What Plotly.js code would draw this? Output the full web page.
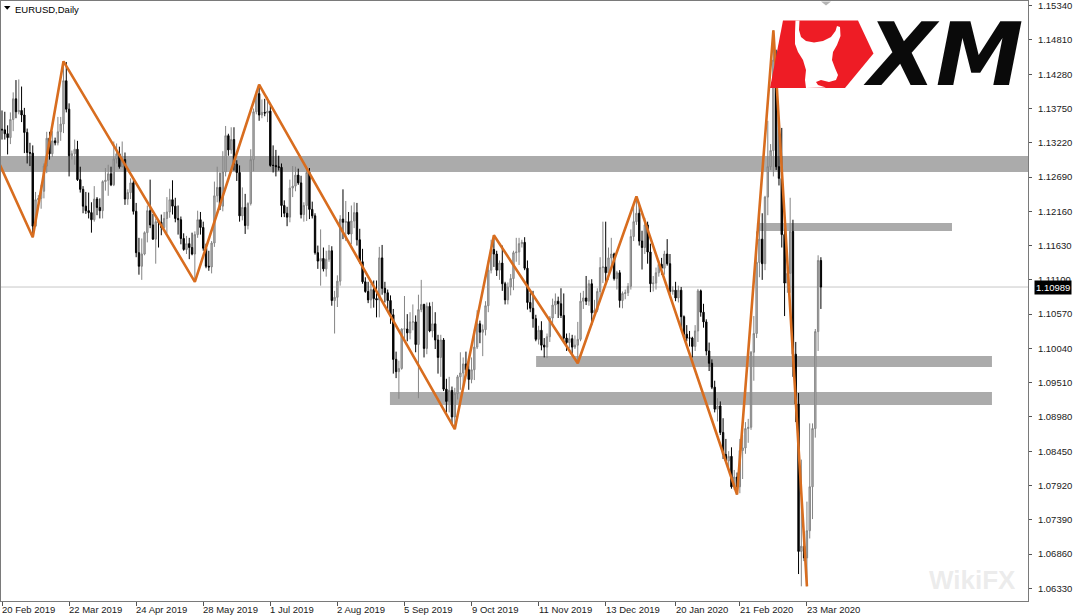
<!DOCTYPE html>
<html>
<head>
<meta charset="utf-8">
<script src="https://cdn.plot.ly/plotly-3.0.1.min.js"></script>
<style>html,body{margin:0;padding:0;background:#fff;}#chart{width:1080px;height:616px;}</style>
</head>
<body>
<div id="chart"></div>
<script>
// EURUSD Daily, bar index 0 = 20 Feb 2019 ... 293 = last bar (Mar 2020)
const opens = [
1.1343,1.1342,1.1336,1.1330,1.1358,1.1390,1.1370,1.1372,1.1365,1.1338,
1.1307,1.1306,1.1193,1.1234,1.1236,1.1247,1.1286,1.1329,1.1305,1.1325,
1.1322,1.1339,1.1351,1.1418,1.1374,1.1302,1.1305,1.1312,1.1265,1.1250,
1.1224,1.1217,1.1214,1.1203,1.1235,1.1222,1.1217,1.1262,1.1264,1.1274,
1.1257,1.1297,1.1305,1.1285,1.1296,1.1235,1.1245,1.1260,1.1216,1.1152,
1.1131,1.1150,1.1183,1.1217,1.1195,1.1173,1.1200,1.1199,1.1191,1.1205,
1.1215,1.1234,1.1224,1.1205,1.1203,1.1174,1.1157,1.1166,1.1160,1.1150,
1.1180,1.1203,1.1191,1.1159,1.1131,1.1130,1.1167,1.1240,1.1253,1.1224,
1.1277,1.1333,1.1311,1.1327,1.1289,1.1276,1.1209,1.1222,1.1194,1.1228,
1.1296,1.1370,1.1398,1.1365,1.1369,1.1368,1.1371,1.1287,1.1287,1.1285,
1.1284,1.1225,1.1213,1.1207,1.1252,1.1255,1.1272,1.1260,1.1211,1.1225,
1.1276,1.1219,1.1209,1.1152,1.1139,1.1143,1.1127,1.1142,1.1155,1.1078,
1.1083,1.1108,1.1204,1.1199,1.1200,1.1181,1.1201,1.1214,1.1172,1.1138,
1.1107,1.1092,1.1079,1.1095,1.1081,1.1079,1.1144,1.1097,1.1090,1.1078,
1.1056,1.0987,1.0968,1.0973,1.1034,1.1034,1.1028,1.1045,1.1045,1.1010,
1.1064,1.1072,1.1004,1.1069,1.1031,1.1042,1.1017,1.0990,1.1017,1.0941,
1.0922,1.0939,1.0898,1.0934,1.0960,1.0966,1.0980,1.0971,1.0956,1.0971,
1.1006,1.1042,1.1029,1.1033,1.1070,1.1125,1.1157,1.1150,1.1125,1.1136,
1.1104,1.1079,1.1099,1.1112,1.1152,1.1153,1.1166,1.1168,1.1128,1.1075,
1.1066,1.1050,1.1018,1.1032,1.1009,1.1006,1.1022,1.1051,1.1071,1.1077,
1.1073,1.1055,1.1020,1.1013,1.1019,1.1006,1.1009,1.1018,1.1077,1.1082,
1.1077,1.1104,1.1059,1.1063,1.1092,1.1129,1.1130,1.1121,1.1144,1.1150,
1.1112,1.1121,1.1078,1.1089,1.1090,1.1100,1.1177,1.1200,1.1213,1.1170,
1.1160,1.1195,1.1153,1.1104,1.1105,1.1121,1.1134,1.1128,1.1150,1.1135,
1.1092,1.1094,1.1082,1.1094,1.1053,1.1026,1.1020,1.1020,1.1007,1.1031,
1.1093,1.1060,1.1045,1.1000,1.0981,1.0944,1.0910,1.0915,1.0874,1.0840,
1.0830,1.0837,1.0790,1.0805,1.0790,1.0846,1.0850,1.0880,1.0882,1.0998,
1.1027,1.1137,1.1173,1.1135,1.1238,1.1285,1.1310,1.1450,1.1285,1.1267,
1.1180,1.1105,1.1120,1.1185,1.0995,1.0918,1.0690,1.0698,1.0680,1.0722,
1.0790,1.0880,1.1030,1.1140];
const highs = [
1.1372,1.1370,1.1349,1.1369,1.1400,1.1419,1.1420,1.1409,1.1376,1.1344,
1.1322,1.1318,1.1246,1.1241,1.1257,1.1290,1.1339,1.1339,1.1340,1.1330,
1.1362,1.1362,1.1448,1.1447,1.1383,1.1310,1.1327,1.1325,1.1285,1.1255,
1.1246,1.1245,1.1230,1.1255,1.1238,1.1236,1.1264,1.1283,1.1288,1.1285,
1.1324,1.1321,1.1316,1.1324,1.1307,1.1250,1.1267,1.1264,1.1229,1.1175,
1.1174,1.1185,1.1225,1.1265,1.1212,1.1205,1.1204,1.1211,1.1215,1.1238,
1.1251,1.1264,1.1237,1.1225,1.1208,1.1182,1.1178,1.1175,1.1183,1.1185,
1.1217,1.1215,1.1200,1.1166,1.1155,1.1170,1.1262,1.1285,1.1276,1.1309,
1.1348,1.1336,1.1346,1.1346,1.1295,1.1287,1.1253,1.1243,1.1230,1.1312,
1.1375,1.1403,1.1412,1.1389,1.1390,1.1393,1.1379,1.1318,1.1311,1.1302,
1.1290,1.1233,1.1223,1.1265,1.1286,1.1285,1.1282,1.1271,1.1230,1.1282,
1.1283,1.1231,1.1213,1.1163,1.1188,1.1160,1.1155,1.1164,1.1162,1.1093,
1.1117,1.1210,1.1250,1.1232,1.1215,1.1225,1.1230,1.1229,1.1189,1.1158,
1.1114,1.1107,1.1104,1.1109,1.1109,1.1161,1.1164,1.1107,1.1095,1.1086,
1.1065,1.0999,1.0985,1.1035,1.1085,1.1057,1.1060,1.1072,1.1055,1.1087,
1.1110,1.1073,1.1075,1.1075,1.1076,1.1060,1.1025,1.1025,1.1020,1.0957,
1.0960,1.0945,1.0943,1.0963,1.0998,1.0990,1.0999,1.0989,1.0990,1.1033,
1.1063,1.1047,1.1041,1.1077,1.1140,1.1172,1.1179,1.1155,1.1140,1.1163,
1.1107,1.1106,1.1119,1.1155,1.1175,1.1175,1.1172,1.1176,1.1140,1.1090,
1.1093,1.1056,1.1039,1.1046,1.1020,1.1027,1.1054,1.1081,1.1089,1.1084,
1.1097,1.1089,1.1027,1.1028,1.1025,1.1024,1.1045,1.1090,1.1093,1.1116,
1.1110,1.1111,1.1079,1.1097,1.1145,1.1200,1.1200,1.1160,1.1175,1.1152,
1.1124,1.1125,1.1092,1.1095,1.1105,1.1188,1.1225,1.1239,1.1228,1.1186,
1.1206,1.1200,1.1166,1.1116,1.1129,1.1140,1.1144,1.1155,1.1173,1.1150,
1.1100,1.1107,1.1101,1.1099,1.1055,1.1040,1.1031,1.1022,1.1040,1.1096,
1.1095,1.1073,1.1049,1.1013,1.0987,1.0954,1.0927,1.0922,1.0896,1.0864,
1.0845,1.0851,1.0816,1.0812,1.0864,1.0870,1.0890,1.0895,1.1000,1.1054,
1.1185,1.1214,1.1213,1.1240,1.1356,1.1320,1.1496,1.1466,1.1358,1.1345,
1.1197,1.1130,1.1237,1.1203,1.1014,1.0935,1.0832,1.0710,1.0767,1.0888,
1.0888,1.1034,1.1148,1.1145];
const lows = [
1.1327,1.1327,1.1304,1.1320,1.1340,1.1360,1.1366,1.1354,1.1306,1.1290,
1.1286,1.1176,1.1192,1.1229,1.1220,1.1236,1.1275,1.1296,1.1300,1.1318,
1.1318,1.1325,1.1337,1.1369,1.1270,1.1296,1.1288,1.1263,1.1245,1.1213,
1.1212,1.1205,1.1183,1.1200,1.1210,1.1205,1.1205,1.1248,1.1240,1.1255,
1.1255,1.1290,1.1282,1.1284,1.1226,1.1226,1.1235,1.1211,1.1145,1.1118,
1.1110,1.1148,1.1168,1.1190,1.1172,1.1135,1.1160,1.1179,1.1189,1.1182,
1.1206,1.1211,1.1199,1.1180,1.1165,1.1155,1.1150,1.1142,1.1148,1.1107,
1.1175,1.1180,1.1155,1.1128,1.1124,1.1120,1.1161,1.1230,1.1218,1.1216,
1.1270,1.1302,1.1305,1.1279,1.1263,1.1200,1.1202,1.1181,1.1188,1.1225,
1.1278,1.1366,1.1356,1.1360,1.1363,1.1354,1.1285,1.1276,1.1270,1.1279,
1.1207,1.1207,1.1193,1.1199,1.1238,1.1247,1.1257,1.1205,1.1200,1.1201,
1.1204,1.1205,1.1149,1.1127,1.1101,1.1123,1.1115,1.1138,1.1070,1.1027,
1.1068,1.1101,1.1173,1.1170,1.1180,1.1165,1.1190,1.1163,1.1135,1.1104,
1.1090,1.1074,1.1066,1.1067,1.1052,1.1052,1.1087,1.1075,1.1064,1.1042,
1.0965,1.0958,1.0926,1.0971,1.1018,1.1015,1.1018,1.1032,1.0998,1.0927,
1.1060,1.0990,1.0995,1.1029,1.1021,1.1003,1.0965,1.0960,1.0938,1.0905,
1.0905,1.0885,1.0879,1.0925,1.0940,1.0945,1.0963,1.0940,1.0950,1.0955,
1.1003,1.1012,1.0992,1.1024,1.1060,1.1120,1.1130,1.1116,1.1110,1.1093,
1.1072,1.1072,1.1086,1.1094,1.1138,1.1133,1.1160,1.1125,1.1064,1.1060,
1.1036,1.1015,1.1010,1.1001,1.0990,1.0989,1.1014,1.1040,1.1057,1.1051,
1.1051,1.1014,1.1000,1.1004,1.0995,1.1003,1.0981,1.1015,1.1065,1.1071,
1.1070,1.1040,1.1057,1.1060,1.1080,1.1105,1.1105,1.1110,1.1130,1.1109,
1.1095,1.1067,1.1066,1.1080,1.1085,1.1095,1.1170,1.1195,1.1163,1.1126,
1.1150,1.1135,1.1091,1.1092,1.1095,1.1115,1.1118,1.1118,1.1132,1.1085,
1.1087,1.1077,1.1075,1.1036,1.1020,1.1015,1.1007,1.0990,1.1000,1.1014,
1.1053,1.1036,1.0993,1.0969,1.0941,1.0905,1.0891,1.0870,1.0833,1.0827,
1.0820,1.0787,1.0785,1.0778,1.0780,1.0802,1.0841,1.0858,1.0878,1.0954,
1.1020,1.1114,1.1110,1.1125,1.1210,1.1280,1.1270,1.1280,1.1256,1.1160,
1.1054,1.1090,1.1090,1.0960,1.0890,1.0655,1.0636,1.0675,1.0636,1.0710,
1.0740,1.0866,1.1000,1.1065];
const closes = [
1.1342,1.1336,1.1330,1.1358,1.1390,1.1370,1.1372,1.1365,1.1338,1.1307,
1.1306,1.1193,1.1234,1.1236,1.1247,1.1286,1.1329,1.1305,1.1325,1.1322,
1.1339,1.1351,1.1418,1.1374,1.1302,1.1305,1.1312,1.1265,1.1250,1.1224,
1.1217,1.1214,1.1203,1.1235,1.1222,1.1217,1.1262,1.1264,1.1274,1.1257,
1.1297,1.1305,1.1285,1.1296,1.1235,1.1245,1.1260,1.1216,1.1152,1.1131,
1.1150,1.1183,1.1217,1.1195,1.1173,1.1200,1.1199,1.1191,1.1205,1.1215,
1.1234,1.1224,1.1205,1.1203,1.1174,1.1157,1.1166,1.1160,1.1150,1.1180,
1.1203,1.1191,1.1159,1.1131,1.1130,1.1167,1.1240,1.1253,1.1224,1.1277,
1.1333,1.1311,1.1327,1.1289,1.1276,1.1209,1.1222,1.1194,1.1228,1.1296,
1.1370,1.1398,1.1365,1.1369,1.1368,1.1371,1.1287,1.1287,1.1285,1.1284,
1.1225,1.1213,1.1207,1.1252,1.1255,1.1272,1.1260,1.1211,1.1225,1.1276,
1.1219,1.1209,1.1152,1.1139,1.1143,1.1127,1.1142,1.1155,1.1078,1.1083,
1.1108,1.1204,1.1199,1.1200,1.1181,1.1201,1.1214,1.1172,1.1138,1.1107,
1.1092,1.1079,1.1095,1.1081,1.1079,1.1144,1.1097,1.1090,1.1078,1.1056,
1.0987,1.0968,1.0973,1.1034,1.1034,1.1028,1.1045,1.1045,1.1010,1.1064,
1.1072,1.1004,1.1069,1.1031,1.1042,1.1017,1.0990,1.1017,1.0941,1.0922,
1.0939,1.0898,1.0934,1.0960,1.0966,1.0980,1.0971,1.0956,1.0971,1.1006,
1.1042,1.1029,1.1033,1.1070,1.1125,1.1157,1.1150,1.1125,1.1136,1.1104,
1.1079,1.1099,1.1112,1.1152,1.1153,1.1166,1.1168,1.1128,1.1075,1.1066,
1.1050,1.1018,1.1032,1.1009,1.1006,1.1022,1.1051,1.1071,1.1077,1.1073,
1.1055,1.1020,1.1013,1.1019,1.1006,1.1009,1.1018,1.1077,1.1082,1.1077,
1.1104,1.1059,1.1063,1.1092,1.1129,1.1130,1.1121,1.1144,1.1150,1.1112,
1.1121,1.1078,1.1089,1.1090,1.1100,1.1177,1.1200,1.1213,1.1170,1.1160,
1.1195,1.1153,1.1104,1.1105,1.1121,1.1134,1.1128,1.1150,1.1135,1.1092,
1.1094,1.1082,1.1094,1.1053,1.1026,1.1020,1.1020,1.1007,1.1031,1.1093,
1.1060,1.1045,1.1000,1.0981,1.0944,1.0910,1.0915,1.0874,1.0840,1.0830,
1.0837,1.0790,1.0805,1.0790,1.0846,1.0850,1.0880,1.0882,1.0998,1.1027,
1.1137,1.1173,1.1135,1.1238,1.1285,1.1310,1.1450,1.1285,1.1267,1.1180,
1.1105,1.1120,1.1185,1.0995,1.0918,1.0690,1.0698,1.0680,1.0722,1.0790,
1.0880,1.1030,1.1140,1.10989];

// x-axis date labels and the bar index they sit on
const xTickIdx = [0, 24, 48, 72, 96, 120, 144, 168, 192, 216, 241, 264, 288];
const xTickText = ['20 Feb 2019','22 Mar 2019','24 Apr 2019','28 May 2019','1 Jul 2019','2 Aug 2019',
  '5 Sep 2019','9 Oct 2019','11 Nov 2019','13 Dec 2019','20 Jan 2020','21 Feb 2020','23 Mar 2020'];
// price axis labels
const yTickVals = [1.15340,1.14810,1.14280,1.13750,1.13220,1.12690,1.12160,1.11630,1.11100,
  1.10570,1.10040,1.09510,1.08980,1.08450,1.07920,1.07390,1.06860,1.06330];
// zigzag swing points (bar index, price)
const zigIdx = [-0.72, 11, 22, 69, 92, 162, 176, 206, 227, 263, 276, 288];
const zigPrice = [1.12876, 1.1176, 1.1448, 1.1107, 1.1412, 1.0879, 1.1179, 1.0981, 1.1239, 1.0778, 1.1496, 1.0636];
// support / resistance zones: [price low, price high, from bar, to bar]
const zoneLow  = [1.12768, 1.11855, 1.09752, 1.09164];
const zoneHigh = [1.13016, 1.11979, 1.09922, 1.09365];
const zoneFrom = [-1, 270.1, 191.1, 138.8];
const zoneTo   = [368, 339.9, 354.2, 354.2];
const lastPrice = 1.10989;

const xRange = [-0.36, 367.1];
const yRange = [1.06133, 1.15413];
const idx = opens.map((_, i) => i);

// decoration helper: pixel -> paper coords
const L = 1, R = 1028, T = 1, B = 601;
function px2paper(px, py) { return [(px - L) / (R - L), (B - py) / (B - T)]; }
function path(pts) { return 'M' + pts.map(p => px2paper(p[0], p[1]).map(v => v.toFixed(5)).join(',')).join('L') + 'Z'; }

const FONT = 'Liberation Sans, Arial, sans-serif';

const traces = [
  {
    type: 'candlestick', x: idx, open: opens, high: highs, low: lows, close: closes,
    increasing: {line: {color: '#858585', width: 1}, fillcolor: '#b8b8b8'},
    decreasing: {line: {color: '#000000', width: 1}, fillcolor: '#000000'},
    whiskerwidth: 0, hoverinfo: 'skip', showlegend: false
  },
  {
    type: 'scatter', mode: 'lines', x: zigIdx, y: zigPrice,
    line: {color: '#d86d1f', width: 2.6}, hoverinfo: 'skip', showlegend: false
  }
];

const shapes = [];
for (let i = 0; i < zoneLow.length; i++) {
  shapes.push({type: 'rect', xref: 'x', yref: 'y', x0: zoneFrom[i], x1: zoneTo[i], y0: zoneLow[i], y1: zoneHigh[i],
    fillcolor: '#ababab', line: {width: 0}, layer: 'below'});
}
shapes.push({type: 'line', xref: 'paper', yref: 'y', x0: 0, x1: 1, y0: lastPrice, y1: lastPrice,
  line: {color: '#c8c8c8', width: 1}, layer: 'below'});
// title triangle
shapes.push({type: 'path', xref: 'paper', yref: 'paper', path: path([[4,6],[10.5,6],[7.2,9.8]]),
  fillcolor: '#000', line: {width: 0}});
// chart shift marker
shapes.push({type: 'path', xref: 'paper', yref: 'paper', path: path([[821,1.5],[831,1.5],[826,5.5]]),
  fillcolor: '#b4b4b4', line: {width: 0}});
// XM logo - red badge
shapes.push({type: 'path', xref: 'paper', yref: 'paper',
  path: path([[783,20.5],[858,20.5],[873.5,53.5],[845,88],[770,88]]),
  fillcolor: '#ee1c25', line: {width: 0}});
// bull head (white)
shapes.push({type: 'path', xref: 'paper', yref: 'paper',
  path: path([[795.5,20.5],[799.5,20.5],[799,30],[801,37],[806,41],[814,42.5],[823,41],[831,37],[835.5,31],[837,26],[840,27],
    [840.5,36],[837,45],[833,52],[832,60],[835,68],[838,75],[836,80],[829,82],[821,80],[816,82],[818,85],[826,87.5],
    [806,88],[805,80],[806,70],[803,60],[798,52],[795,44],[795,33]]),
  fillcolor: '#ffffff', line: {width: 0}});

const annotations = [];
for (let i = 0; i < xTickIdx.length; i++) {
  annotations.push({x: xTickIdx[i], xref: 'x', y: 0, yref: 'paper', yanchor: 'top', xanchor: 'left',
    text: xTickText[i], showarrow: false, xshift: -2, yshift: -1,
    font: {family: FONT, size: 9.5, color: '#1a1a1a'}});
}
annotations.push({x: 0, xref: 'paper', y: 1, yref: 'paper', xanchor: 'left', yanchor: 'top', xshift: 12, yshift: -1,
  text: 'EURUSD,Daily', showarrow: false, font: {family: FONT, size: 9.5, color: '#000'}});
annotations.push({x: 1, xref: 'paper', y: lastPrice, yref: 'y', xanchor: 'left', yanchor: 'middle', xshift: 6,
  text: lastPrice.toFixed(5), showarrow: false, bgcolor: '#000', borderpad: 1,
  font: {family: FONT, size: 9.5, color: '#fff'}});
const xmPos = px2paper(943, 55);
annotations.push({x: xmPos[0], xref: 'paper', y: xmPos[1], yref: 'paper',
  xanchor: 'center', yanchor: 'middle', text: '<b><i>XM</i></b>', showarrow: false,
  font: {family: 'DejaVu Sans, sans-serif', size: 88, color: '#0a0a0a'}});
const wmPos = px2paper(972, 580);
annotations.push({x: wmPos[0], xref: 'paper', y: wmPos[1], yref: 'paper',
  xanchor: 'center', yanchor: 'middle', text: '<b>WikiFX</b>', showarrow: false,
  font: {family: FONT, size: 26, color: 'rgba(200,200,200,0.35)'}});

const layout = {
  width: 1080, height: 616,
  margin: {l: L, r: 1080 - R, t: T, b: 616 - B, pad: 0},
  paper_bgcolor: '#ffffff', plot_bgcolor: 'rgba(0,0,0,0)',
  showlegend: false, dragmode: false,
  xaxis: {range: xRange, type: 'linear', showgrid: false, zeroline: false, showline: true, mirror: true,
    linecolor: '#7a7a7a', linewidth: 1, ticks: 'outside', ticklen: 4, tickcolor: '#555',
    tickmode: 'array', tickvals: xTickIdx, showticklabels: false, rangeslider: {visible: false}, fixedrange: true},
  yaxis: {range: yRange, side: 'right', showgrid: false, zeroline: false, showline: true, mirror: true,
    linecolor: '#7a7a7a', linewidth: 1, ticks: 'outside', ticklen: 3, tickcolor: '#555',
    tickmode: 'array', tickvals: yTickVals, tickformat: '.5f', ticklabelstandoff: 4,
    tickfont: {family: FONT, size: 9.5, color: '#1a1a1a'}, fixedrange: true},
  shapes: shapes, annotations: annotations
};

Plotly.newPlot('chart', traces, layout, {staticPlot: true, displayModeBar: false});
</script>
</body>
</html>
